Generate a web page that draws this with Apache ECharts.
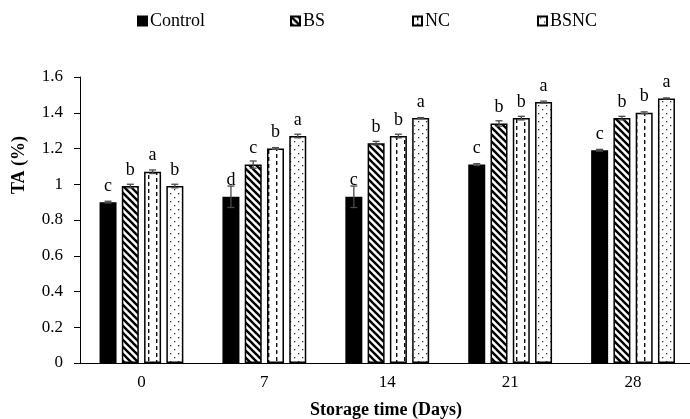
<!DOCTYPE html>
<html><head><meta charset="utf-8">
<script src="https://cdn.jsdelivr.net/npm/echarts@6/dist/echarts.min.js"></script>
<style>html,body{margin:0;padding:0;background:#fff}#c{width:690px;height:419px}</style>
</head><body><div id="c"></div>
<script>
const categories = ['0', '7', '14', '21', '28'];
const seriesNames = ['Control', 'BS', 'NC', 'BSNC'];
const controlValues = [0.90, 0.93, 0.93, 1.11, 1.19];
const bsValues = [0.99, 1.11, 1.23, 1.34, 1.37];
const ncValues = [1.07, 1.20, 1.27, 1.37, 1.40];
const bsncValues = [0.99, 1.27, 1.37, 1.46, 1.48];
const controlErr = [0.005, 0.06, 0.06, 0.005, 0.005];
const bsErr = [0.01, 0.02, 0.01, 0.015, 0.01];
const ncErr = [0.01, 0.005, 0.01, 0.01, 0.005];
const bsncErr = [0.01, 0.01, 0.003, 0.005, 0.003];
const controlLetters = ['c', 'd', 'c', 'c', 'c'];
const bsLetters = ['b', 'c', 'b', 'b', 'b'];
const ncLetters = ['a', 'b', 'b', 'b', 'b'];
const bsncLetters = ['b', 'a', 'a', 'a', 'a'];
const xTitle = 'Storage time (Days)';
const yTitle = 'TA (%)';

const FONT = '"Liberation Serif", "Times New Roman", serif';

function tile(w, h, draw) {
  const c = document.createElement('canvas');
  c.width = w; c.height = h;
  const ctx = c.getContext('2d');
  ctx.fillStyle = '#fff';
  ctx.fillRect(0, 0, w, h);
  draw(ctx);
  return c;
}
const stripePattern = tile(7, 7, ctx => {
  ctx.strokeStyle = '#000'; ctx.lineWidth = 2.4;
  for (let k = -1; k <= 1; k++) {
    ctx.beginPath(); ctx.moveTo(-1, -1 + 7 * k); ctx.lineTo(8, 8 + 7 * k); ctx.stroke();
  }
});
const dashPattern = tile(16, 7, ctx => {
  ctx.fillStyle = '#111';
  ctx.fillRect(4, 0, 1.4, 4);
  ctx.fillRect(12, 3, 1.4, 4);
});
const dotPattern = tile(8, 8, ctx => {
  ctx.fillStyle = '#333';
  ctx.fillRect(2, 1, 1.3, 1.3);
  ctx.fillRect(6, 5, 1.3, 1.3);
});

const valuesList = [controlValues, bsValues, ncValues, bsncValues];
const errList = [controlErr, bsErr, ncErr, bsncErr];
const lettersList = [controlLetters, bsLetters, ncLetters, bsncLetters];
const fills = ['#000',
  { image: stripePattern, repeat: 'repeat' },
  { image: dashPattern, repeat: 'repeat' },
  { image: dotPattern, repeat: 'repeat' }];

const BAR_W = 17;
const BAR_GAP = 0.31;

const barSeries = seriesNames.map((name, i) => ({
  name: name,
  type: 'bar',
  data: valuesList[i],
  barWidth: BAR_W,
  barGap: (BAR_GAP * 100) + '%',
  itemStyle: { color: fills[i], borderColor: '#000', borderWidth: 1.5 },
  emphasis: { disabled: true },
  label: {
    show: true, position: 'top', distance: 7,
    formatter: p => lettersList[i][p.dataIndex],
    fontFamily: FONT, fontSize: 18, color: '#000'
  },
  z: 2
}));

const errSeries = seriesNames.map((name, i) => ({
  name: name + ' err',
  type: 'custom',
  z: 5,
  data: valuesList[i].map((v, j) => [j, v, errList[i][j]]),
  renderItem: (params, api) => {
    const cat = api.value(0), v = api.value(1), e = api.value(2);
    const step = BAR_W * (1 + BAR_GAP);
    const off = (i - 1.5) * step;
    const hi = api.coord([cat, v + e]);
    const lo = api.coord([cat, v - e]);
    const x = hi[0] + off;
    const cap = 3.5;
    const st = { stroke: '#4a4a4a', lineWidth: 1.3 };
    return {
      type: 'group',
      children: [
        { type: 'line', shape: { x1: x, y1: hi[1], x2: x, y2: lo[1] }, style: st },
        { type: 'line', shape: { x1: x - cap, y1: hi[1], x2: x + cap, y2: hi[1] }, style: st },
        { type: 'line', shape: { x1: x - cap, y1: lo[1], x2: x + cap, y2: lo[1] }, style: st }
      ]
    };
  }
}));

const legendLefts = [137, 290, 412, 537];
const legends = seriesNames.map((n, i) => ({
  data: [{ name: n, icon: 'rect' }], left: legendLefts[i], top: 12,
  padding: 0,
  itemWidth: 9, itemHeight: 9, itemGap: 0,
  selectedMode: false,
  textStyle: { fontFamily: FONT, fontSize: 18, color: '#000', padding: [0, 0, 0, -2] }
}));

const chart = echarts.init(document.getElementById('c'), null, { renderer: 'canvas' });
chart.setOption({
  animation: false,
  backgroundColor: '#fff',
  legend: legends,
  grid: { left: 80, right: -4.5, top: 77, bottom: 56, containLabel: false, outerBoundsMode: 'none' },
  xAxis: {
    type: 'category', data: categories,
    axisLine: { lineStyle: { color: '#000', width: 1 } },
    axisTick: { alignWithLabel: true, length: 4, lineStyle: { color: '#000' } },
    axisLabel: { fontFamily: FONT, fontSize: 17, color: '#000', margin: 11 },
    splitLine: { show: false }
  },
  yAxis: {
    type: 'value', min: 0, max: 1.6, interval: 0.2,
    axisLine: { show: true, lineStyle: { color: '#000', width: 1 } },
    axisTick: { show: true, length: 6, lineStyle: { color: '#000' } },
    axisLabel: { fontFamily: FONT, fontSize: 17, color: '#000', margin: 17 },
    splitLine: { show: false }
  },
  graphic: [
    { type: 'text', x: 386, y: 410,
      style: { text: xTitle, fontFamily: FONT, fontSize: 18, fontWeight: 'bold', fill: '#000', align: 'center', verticalAlign: 'middle' } },
    { type: 'text', x: 19, y: 165, rotation: Math.PI / 2,
      style: { text: yTitle, fontFamily: FONT, fontSize: 18, fontWeight: 'bold', fill: '#000', align: 'center', verticalAlign: 'middle' } }
  ],
  series: barSeries.concat(errSeries)
});
</script>
</body></html>
